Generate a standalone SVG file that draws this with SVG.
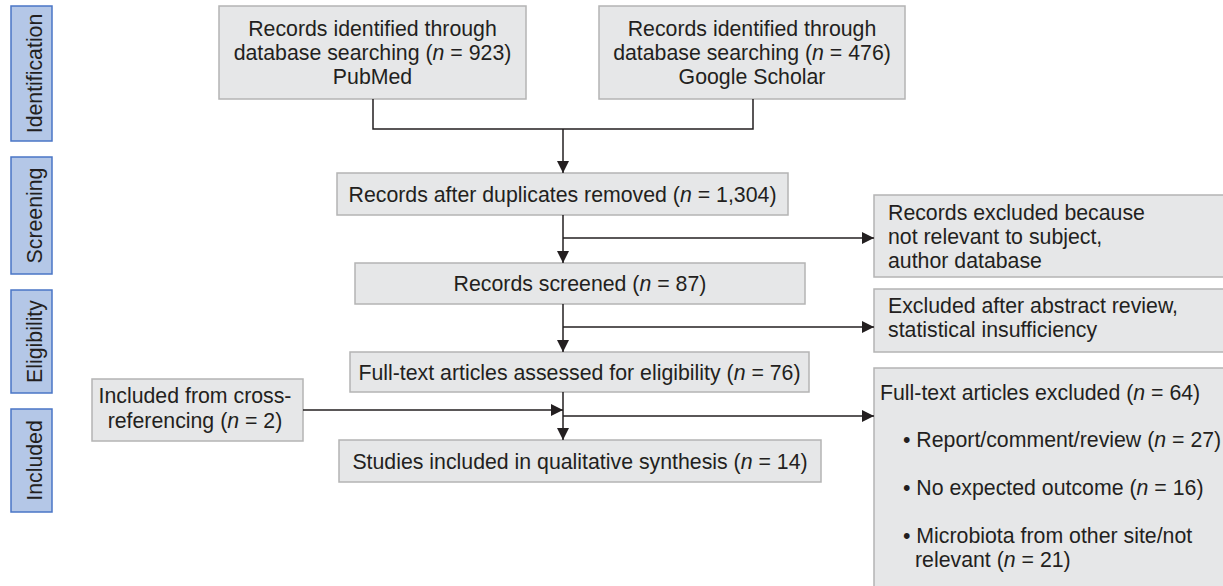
<svg xmlns="http://www.w3.org/2000/svg" width="1223" height="586" viewBox="0 0 1223 586">
<style>
  .box { fill: #e6e7e8; stroke: #b4b4b4; stroke-width: 1.5; }
  .side { fill: #b4c7e7; stroke: #4a76c6; stroke-width: 1.5; }
  text { font-family: "Liberation Sans", Arial, sans-serif; font-size: 21.3px; fill: #231f20; }
  .c { text-anchor: middle; }
  .i { font-style: italic; }
  .line { fill: none; stroke: #231f20; stroke-width: 1.5; }
</style>
<defs>
  <marker id="arr" markerWidth="13" markerHeight="12" refX="12" refY="6" orient="auto" markerUnits="userSpaceOnUse">
    <path d="M0,0 L12,6 L0,12 Z" fill="#231f20"/>
  </marker>
</defs>

<g id="side-identification">
  <rect class="side" x="11" y="6" width="41" height="135"/>
  <text class="c" transform="translate(41.5,73.5) rotate(-90)">Identification</text>
</g>
<g id="side-screening">
  <rect class="side" x="11" y="157" width="41" height="117"/>
  <text class="c" transform="translate(41.5,215.5) rotate(-90)">Screening</text>
</g>
<g id="side-eligibility">
  <rect class="side" x="11" y="290" width="41" height="103"/>
  <text class="c" transform="translate(41.5,341.5) rotate(-90)">Eligibility</text>
</g>
<g id="side-included">
  <rect class="side" x="11" y="409" width="41" height="103"/>
  <text class="c" transform="translate(41.5,460.5) rotate(-90)">Included</text>
</g>

<g id="pubmed">
  <rect class="box" x="219" y="6" width="307" height="93"/>
  <text class="c" x="372.5" y="36">Records identified through</text>
  <text class="c" x="372.5" y="60">database searching (<tspan class="i">n</tspan> = 923)</text>
  <text class="c" x="372.5" y="84">PubMed</text>
</g>
<g id="scholar">
  <rect class="box" x="599" y="6" width="306" height="93"/>
  <text class="c" x="752" y="36">Records identified through</text>
  <text class="c" x="752" y="60">database searching (<tspan class="i">n</tspan> = 476)</text>
  <text class="c" x="752" y="84">Google Scholar</text>
</g>
<g id="duplicates">
  <rect class="box" x="337" y="173" width="451" height="42"/>
  <text class="c" x="562.5" y="201.5">Records after duplicates removed (<tspan class="i">n</tspan> = 1,304)</text>
</g>
<g id="screened">
  <rect class="box" x="355" y="263" width="450" height="41"/>
  <text class="c" x="580" y="291">Records screened (<tspan class="i">n</tspan> = 87)</text>
</g>
<g id="fulltext">
  <rect class="box" x="350" y="352" width="459" height="40"/>
  <text class="c" x="579.5" y="379.5">Full-text articles assessed for eligibility (<tspan class="i">n</tspan> = 76)</text>
</g>
<g id="studies">
  <rect class="box" x="339" y="440" width="482" height="42"/>
  <text class="c" x="580" y="468.5">Studies included in qualitative synthesis (<tspan class="i">n</tspan> = 14)</text>
</g>
<g id="crossref">
  <rect class="box" x="92" y="379" width="211" height="62"/>
  <text class="c" x="195" y="403">Included from cross-</text>
  <text class="c" x="195" y="428">referencing (<tspan class="i">n</tspan> = 2)</text>
</g>
<g id="excluded-subject">
  <rect class="box" x="874" y="195" width="360" height="82"/>
  <text x="888" y="220">Records excluded because</text>
  <text x="888" y="244">not relevant to subject,</text>
  <text x="888" y="268">author database</text>
</g>
<g id="excluded-abstract">
  <rect class="box" x="874" y="289" width="360" height="63"/>
  <text x="888" y="313">Excluded after abstract review,</text>
  <text x="888" y="337">statistical insufficiency</text>
</g>
<g id="excluded-fulltext">
  <rect class="box" x="874" y="368" width="360" height="230"/>
  <text x="880" y="400">Full-text articles excluded (<tspan class="i">n</tspan> = 64)</text>
  <text x="903" y="447">• Report/comment/review (<tspan class="i">n</tspan> = 27)</text>
  <text x="903" y="495">• No expected outcome (<tspan class="i">n</tspan> = 16)</text>
  <text x="903" y="543">• Microbiota from other site/not</text>
  <text x="915" y="567">relevant (<tspan class="i">n</tspan> = 21)</text>
</g>

<g id="connectors">
  <polyline class="line" points="373,99 373,129 753,129 753,99"/>
  <line class="line" x1="563" y1="129" x2="563" y2="173" marker-end="url(#arr)"/>
  <line class="line" x1="563" y1="215" x2="563" y2="263" marker-end="url(#arr)"/>
  <line class="line" x1="563" y1="238" x2="874" y2="238" marker-end="url(#arr)"/>
  <line class="line" x1="563" y1="304" x2="563" y2="352" marker-end="url(#arr)"/>
  <line class="line" x1="563" y1="327" x2="874" y2="327" marker-end="url(#arr)"/>
  <line class="line" x1="563" y1="392" x2="563" y2="440" marker-end="url(#arr)"/>
  <line class="line" x1="563" y1="416" x2="874" y2="416" marker-end="url(#arr)"/>
  <line class="line" x1="303" y1="410" x2="563" y2="410" marker-end="url(#arr)"/>
</g>
</svg>
